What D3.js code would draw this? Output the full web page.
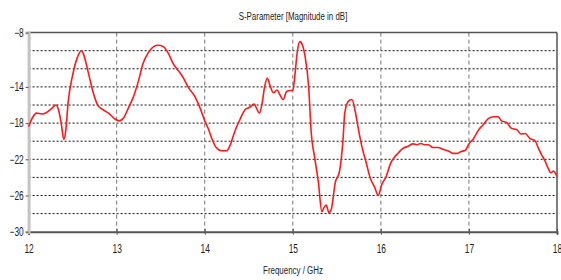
<!DOCTYPE html>
<html>
<head>
<meta charset="utf-8">
<script src="https://cdn.jsdelivr.net/npm/d3@7"></script>
<style>
  body { margin: 0; background: #fff; }
  text { font-family: "Liberation Sans", Arial, sans-serif; fill: #222; }
</style>
</head>
<body>
<div id="chart"></div>
<script>
// S-parameter magnitude
var freqGHz = [12.0, 12.05, 12.09, 12.15, 12.2, 12.26, 12.31, 12.34, 12.37, 12.40, 12.42, 12.45, 12.5, 12.55, 12.6, 12.62, 12.68, 12.73, 12.79, 12.85, 12.92, 12.98,
  13.03, 13.08, 13.13, 13.19, 13.25, 13.3, 13.36, 13.42, 13.47, 13.53, 13.59, 13.64, 13.7, 13.76, 13.81, 13.89, 13.95,
  14.0, 14.04, 14.08, 14.13, 14.19, 14.25, 14.29, 14.34, 14.4, 14.46, 14.51, 14.56, 14.59, 14.62, 14.65, 14.68, 14.71, 14.74, 14.78, 14.82, 14.855, 14.89, 14.93, 14.97,
  15.0, 15.025, 15.05, 15.08, 15.11, 15.14, 15.18, 15.21, 15.25, 15.29, 15.33, 15.35, 15.38, 15.41, 15.44, 15.48, 15.53, 15.57, 15.59, 15.63, 15.67, 15.71, 15.74, 15.78, 15.83, 15.88, 15.93, 15.97,
  16.01, 16.06, 16.11, 16.16, 16.2, 16.25, 16.31, 16.365, 16.41, 16.45, 16.5, 16.54, 16.59, 16.65, 16.705, 16.76, 16.82, 16.87, 16.91, 16.96,
  17.0, 17.05, 17.11, 17.16, 17.22, 17.28, 17.33, 17.37, 17.43, 17.485, 17.54, 17.59, 17.64, 17.69, 17.75, 17.79, 17.825, 17.86, 17.9, 17.93, 17.96, 17.985, 18.0];
var magDB = [-18.4, -17.3, -16.9, -17.0, -16.85, -16.4, -16.0, -16.55, -18.0, -19.8, -19.0, -15.6, -12.7, -10.85, -10.0, -10.3, -12.5, -14.5, -16.1, -16.55, -17.0, -17.55,
  -17.75, -17.4, -16.4, -15.1, -13.25, -11.4, -10.2, -9.55, -9.4, -9.55, -10.35, -11.4, -12.2, -13.05, -14.0, -15.1, -16.4,
  -17.75, -18.6, -19.7, -20.7, -21.05, -21.05, -20.4, -18.95, -17.6, -16.5, -16.25, -15.9, -16.4, -16.9, -15.9, -14.0, -13.05, -13.8, -14.65, -14.35, -14.9, -15.4, -14.5, -14.4,
  -14.4, -12.6, -10.2, -9.0, -9.4, -10.65, -14.0, -19.15, -21.9, -24.5, -27.8, -27.4, -27.05, -27.9, -27.4, -24.65, -23.35, -19.85, -16.9, -15.6, -15.4, -16.75, -18.4, -20.4, -22.25, -24.1, -25.1, -26.0,
  -24.8, -23.9, -22.45, -21.7, -21.27, -20.8, -20.55, -20.3, -20.4, -20.25, -20.4, -20.4, -20.7, -20.7, -20.9, -21.05, -21.35, -21.35, -21.15, -21.0,
  -20.3, -19.75, -18.75, -18.2, -17.5, -17.3, -17.3, -17.75, -17.95, -18.6, -18.7, -19.2, -19.15, -19.7, -19.95, -20.8, -21.5, -22.1, -23.0, -23.5, -23.3, -23.6, -23.9];

var xTicks = [12, 13, 14, 15, 16, 17, 18];
var yTickLabels = [-8, -14, -18, -22, -26, -30];
var yGrid = [-10, -12, -14, -16, -18, -20, -22, -24, -26, -28];
var xGrid = [13, 14, 15, 16, 17];

var margin = {top: 32.6, right: 4, bottom: 48.3, left: 28.6},
  width = 561 - margin.left - margin.right,
  height = 280 - margin.top - margin.bottom;

var squeeze = 0.7; // narrow look of the original font

var svg = d3.select("#chart")
  .append("svg")
    .attr("width", 561)
    .attr("height", 280);

var g = svg.append("g")
  .attr("transform", "translate(" + margin.left + "," + margin.top + ")");

var x = d3.scaleLinear().domain([12, 18]).range([0, width]);
var y = d3.scaleLinear().domain([-30, -8]).range([height, 0]);

// grid
g.selectAll(".hgrid")
  .data(yGrid)
  .enter()
  .append("line")
    .attr("x1", 0).attr("x2", width)
    .attr("y1", function(d) { return y(d); })
    .attr("y2", function(d) { return y(d); })
    .attr("stroke", "#111")
    .attr("stroke-width", 1)
    .attr("stroke-dasharray", "2,2");

g.selectAll(".vgrid")
  .data(xGrid)
  .enter()
  .append("line")
    .attr("x1", function(d) { return x(d); })
    .attr("x2", function(d) { return x(d); })
    .attr("y1", 0).attr("y2", height)
    .attr("stroke", "#777")
    .attr("stroke-width", 1)
    .attr("stroke-dasharray", "4,3");

// frame: top, right, bottom dark; left light grey
g.append("line").attr("x1", 0).attr("x2", width).attr("y1", 0).attr("y2", 0)
  .attr("stroke", "#555").attr("stroke-width", 1.5);
g.append("line").attr("x1", width).attr("x2", width).attr("y1", 0).attr("y2", height)
  .attr("stroke", "#555").attr("stroke-width", 1.5);

// x axis
var xAxis = g.append("g")
  .attr("transform", "translate(0," + height + ")")
  .call(d3.axisBottom(x).tickValues(xTicks).tickFormat(d3.format("d")).tickSize(3).tickPadding(10));
xAxis.select(".domain").attr("stroke", "#555").attr("stroke-width", 2);
xAxis.selectAll(".tick line").attr("stroke", "#555").attr("y1", -3);
xAxis.selectAll("text")
  .attr("font-size", 12)
  .attr("font-family", null)
  .attr("transform", "scale(" + squeeze + ",1)");

// y axis
var yAxis = g.append("g")
  .call(d3.axisLeft(y).tickValues(yTickLabels).tickFormat(d3.format("d")).tickSize(3).tickPadding(4));
yAxis.select(".domain").attr("stroke", "#c4c4c4").attr("stroke-width", 3);
yAxis.selectAll(".tick line").attr("stroke", "#555");
yAxis.selectAll("text")
  .attr("font-size", 12)
  .attr("font-family", null)
  .attr("transform", "scale(" + squeeze + ",1)");

// curve
var line = d3.line()
  .x(function(d, i) { return x(freqGHz[i]); })
  .y(function(d) { return y(d); })
  .curve(d3.curveMonotoneX);

g.append("path")
  .datum(magDB)
  .attr("fill", "none")
  .attr("stroke", "#ff1a1a")
  .attr("stroke-width", 1.6)
  .attr("stroke-linejoin", "round")
  .attr("d", line);

// titles
svg.append("text")
  .attr("transform", "translate(293,20) scale(0.72,1)")
  .attr("text-anchor", "middle")
  .attr("font-size", 11)
  .text("S-Parameter [Magnitude in dB]");

svg.append("text")
  .attr("transform", "translate(293,274) scale(0.72,1)")
  .attr("text-anchor", "middle")
  .attr("font-size", 11)
  .text("Frequency / GHz");
</script>
</body>
</html>
